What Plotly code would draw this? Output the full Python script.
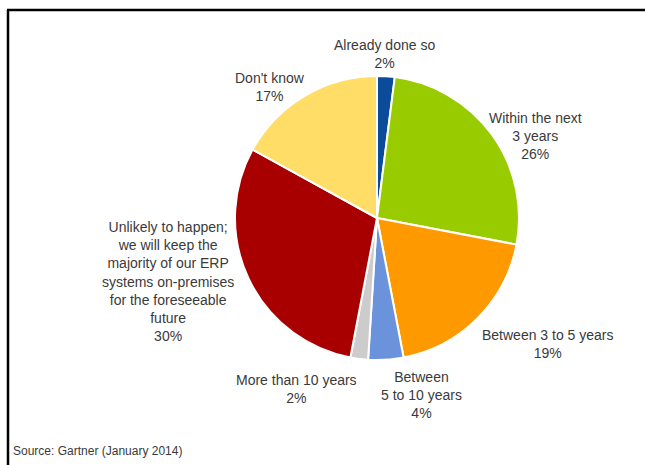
import plotly.graph_objects as go

W, H = 645, 465

categories = [
    "Already done so",
    "Within the next<br>3 years",
    "Between 3 to 5 years",
    "Between<br>5 to 10 years",
    "More than 10 years",
    "Unlikely to happen;<br>we will keep the<br>majority of our ERP<br>systems on-premises<br>for the foreseeable<br>future",
    "Don't know",
]
values = [2, 26, 19, 4, 2, 30, 17]
colors = ["#0b4b9a", "#99cc00", "#ff9900", "#6b93dc", "#cccccc", "#a80000", "#ffdd66"]

# label anchor positions in pixels (center x, top y)
label_pos = [
    (385, 35),
    (535, 108),
    (548, 325),
    (421, 367),
    (296, 370),
    (168, 217),
    (270, 68),
]
source_text = "Source: Gartner (January 2014)"

# pie geometry in pixels
cx, cy, r = 377, 218, 142

fig = go.Figure()
fig.add_trace(go.Pie(
    labels=[c.replace("<br>", " ") for c in categories],
    values=values,
    sort=False,
    direction="clockwise",
    rotation=0,
    marker=dict(colors=colors, line=dict(color="white", width=2)),
    textinfo="none",
    hoverinfo="label+percent",
    showlegend=False,
    domain=dict(x=[(cx - r) / W, (cx + r) / W], y=[(H - cy - r) / H, (H - cy + r) / H]),
))

annotations = []
for cat, v, (px, py) in zip(categories, values, label_pos):
    annotations.append(dict(
        x=px / W, y=1 - py / H, xref="paper", yref="paper",
        xanchor="center", yanchor="top", showarrow=False, align="center",
        text=f"{cat}<br>{v}%",
        font=dict(family="Liberation Sans, Arial, sans-serif", size=14, color="#3a3a3a"),
    ))
annotations.append(dict(
    x=11 / W, y=1 - 451 / H, xref="paper", yref="paper",
    xanchor="left", yanchor="middle", showarrow=False,
    text=source_text,
    font=dict(family="Liberation Sans, Arial, sans-serif", size=12, color="#3a3a3a"),
))

shapes = [
    dict(type="line", xref="paper", yref="paper", x0=7 / W, x1=1, y0=1 - 10 / H, y1=1 - 10 / H,
         line=dict(color="black", width=2.5)),
    dict(type="line", xref="paper", yref="paper", x0=8 / W, x1=8 / W, y0=1 - 10 / H, y1=0,
         line=dict(color="black", width=2.5)),
]

fig.update_layout(
    width=W, height=H,
    margin=dict(l=0, r=0, t=0, b=0),
    paper_bgcolor="white",
    plot_bgcolor="white",
    annotations=annotations,
    shapes=shapes,
)

fig.write_html("out.html", config={"displayModeBar": False},
               post_script="document.body.style.margin='0';")
